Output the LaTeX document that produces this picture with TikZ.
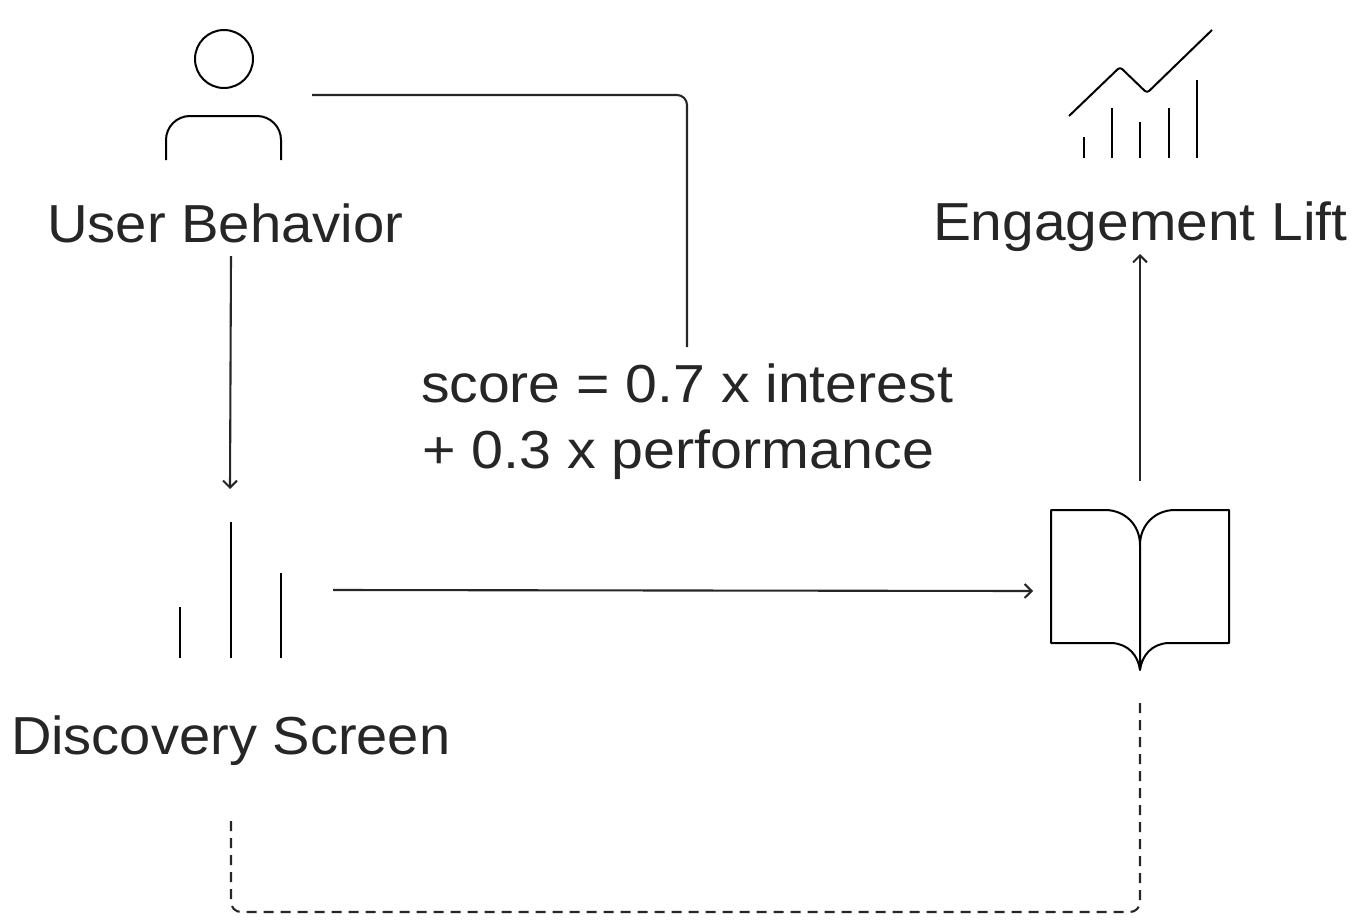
\documentclass[tikz,border=0pt]{standalone}
\usepackage{fontspec}
\setmainfont{Liberation Sans}
\usetikzlibrary{arrows.meta}
\definecolor{ink}{HTML}{262626}
\tikzset{
  px/.style={x=1pt,y=-1pt},
  iconline/.style={draw=black,line width=2pt,line join=round},
  conn/.style={draw=ink,line width=2.1pt,rounded corners=10pt},
  arrowconn/.style={conn,-{Straight Barb[length=7pt,width=14pt,line width=2pt]}},
  dashconn/.style={conn,dash pattern=on 10pt off 7pt},
  label/.style={text=ink,inner sep=0pt,outer sep=0pt,anchor=base west,transform shape,font=\fontsize{53.5}{67}\selectfont},
}
\begin{document}
\begin{tikzpicture}[px]
\useasboundingbox (0,0) rectangle (1358,921);
% labels
\node[label,xscale=1.052] (userlabel) at (47,242) {User Behavior};
\node[label,xscale=1.064] (liftlabel) at (933,240) {Engagement Lift};
\node[label,xscale=1.048] (disclabel) at (11,754) {Discovery Screen};
\node[label,xscale=1.068] (formula) at (421,402) {score = 0.7 x interest};
\node[label,xscale=1.073] (formulab) at (422,468) {+ 0.3 x performance};
% person icon
\node[iconline,circle,minimum size=58pt,inner sep=0pt] (head) at (224,59) {};
\draw[iconline,rounded corners=24pt] (166,160) -- (166,116) -- (281,116) -- (281,160);
% chart icon
\draw[iconline,rounded corners=3pt] (1069,116) -- (1120,67) -- (1147,93) -- (1212,30);
\foreach \px/\py in {1084/137,1112/108,1140/122,1169/108,1197/80}
  \draw[iconline] (\px,158) -- (\px,\py);
% bars icon
\foreach \px/\py in {180/607,231/522,281/573}
  \draw[iconline] (\px,658) -- (\px,\py);
% book icon
\draw[iconline] (1140,545) .. controls (1140,525) and (1125,510) .. (1105,510) -- (1051,510) -- (1051,643) -- (1112,643) .. controls (1128,644) and (1138,655) .. (1140,670) .. controls (1142,655) and (1152,644) .. (1168,643) -- (1229,643) -- (1229,510) -- (1175,510) .. controls (1155,510) and (1140,525) .. (1140,545) -- (1140,670);
% connector ends
\coordinate (a1) at (312,95);
\coordinate (a2) at (687,347);
\coordinate (b1) at (231,256);
\coordinate (b2) at (230,489);
\coordinate (c1) at (333,590);
\coordinate (c2) at (1033,591);
\coordinate (d1) at (1140,481);
\coordinate (d2) at (1140,254);
\coordinate (e1) at (1140,703);
\coordinate (e2) at (231,818);
\draw[conn] (a1) -- (a2 |- a1) -- (a2);
\draw[arrowconn] (b1) -- (b2);
\draw[arrowconn] (c1) -- (c2);
\draw[arrowconn] (d1) -- (d2);
\draw[dashconn] (e1) -- (1140,912) -- (231,912) -- (e2);
\end{tikzpicture}
\end{document}
